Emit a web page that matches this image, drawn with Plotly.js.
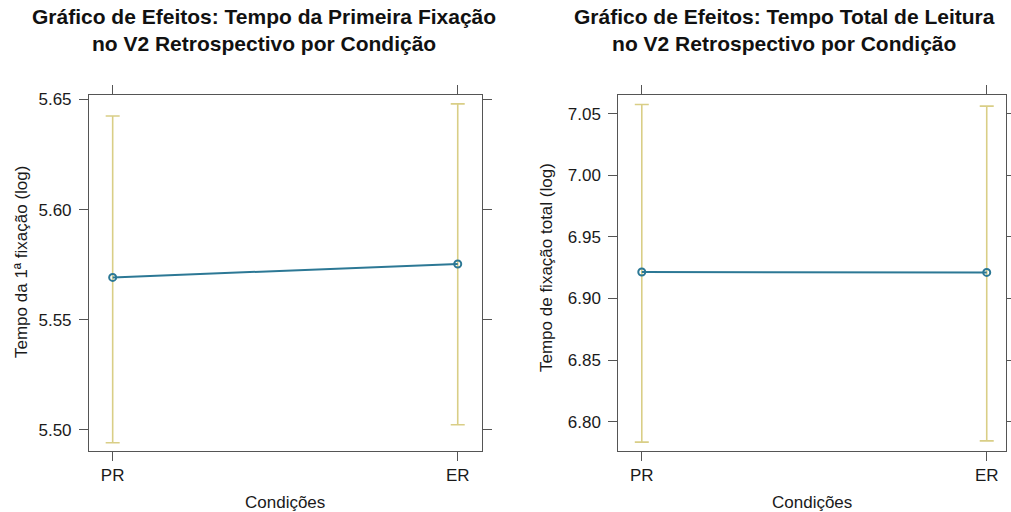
<!DOCTYPE html>
<html>
<head>
<meta charset="utf-8">
<script src="https://cdn.plot.ly/plotly-3.0.1.min.js"></script>
<style>html,body{margin:0;padding:0;background:#fff}#chart{width:1011px;height:512px}</style>
</head>
<body>
<div id="chart"></div>
<script>
// Data
const conditions = ["PR", "ER"];
// Left: Tempo da 1ª fixação (log)
const firstFixFit   = [5.5692, 5.5753];
const firstFixUpper = [5.6425, 5.6480];
const firstFixLower = [5.4941, 5.5023];
// Right: Tempo de fixação total (log)
const totalFixFit   = [6.9215, 6.9212];
const totalFixUpper = [7.0575, 7.0562];
const totalFixLower = [6.7834, 6.7844];

const lineColor = "#2c7895";
const barColor = "#d9ce86";
const axisColor = "#555555";
const font = "Liberation Sans, Arial, sans-serif";

function errTrace(fit, up, lo, xa, ya) {
  return {
    x: conditions, y: fit, xaxis: xa, yaxis: ya, type: "scatter", mode: "markers",
    marker: {size: 1, opacity: 0}, hoverinfo: "skip", showlegend: false,
    error_y: {type: "data", symmetric: false,
      array: up.map((u, i) => u - fit[i]),
      arrayminus: lo.map((l, i) => fit[i] - l),
      color: barColor, thickness: 1.6, width: 7}
  };
}
function fitTrace(fit, xa, ya) {
  return {
    x: conditions, y: fit, xaxis: xa, yaxis: ya, type: "scatter", mode: "lines+markers",
    line: {color: lineColor, width: 2},
    marker: {symbol: "circle-open", size: 7, color: lineColor, line: {width: 2, color: lineColor}},
    showlegend: false
  };
}

const data = [
  errTrace(firstFixFit, firstFixUpper, firstFixLower, "x", "y"),
  fitTrace(firstFixFit, "x", "y"),
  errTrace(totalFixFit, totalFixUpper, totalFixLower, "x2", "y2"),
  fitTrace(totalFixFit, "x2", "y2")
];

const axisCommon = {
  showline: true, mirror: "ticks", linecolor: axisColor, linewidth: 1,
  ticks: "outside", ticklen: 9, tickwidth: 1, tickcolor: axisColor,
  showgrid: false, zeroline: false,
  tickfont: {family: font, size: 17, color: "#1a1a1a"}
};

const yDomain = [0.1201, 0.8135];
const layout = {
  width: 1011, height: 512,
  margin: {l: 0, r: 0, t: 0, b: 0},
  paper_bgcolor: "#ffffff", plot_bgcolor: "#ffffff",
  showlegend: false,
  xaxis: Object.assign({}, axisCommon, {domain: [0.0880, 0.4765], type: "category",
    range: [-0.0687, 1.0696], anchor: "y", ticklabelstandoff: 0}),
  yaxis: Object.assign({}, axisCommon, {domain: yDomain, anchor: "x",
    range: [5.4906, 5.6518], dtick: 0.05, tick0: 5.5, tickformat: ".2f", ticklabelstandoff: 4}),
  xaxis2: Object.assign({}, axisCommon, {domain: [0.6116, 0.9951], type: "category",
    range: [-0.068, 1.056], anchor: "y2", ticklabelstandoff: 0}),
  yaxis2: Object.assign({}, axisCommon, {domain: yDomain, anchor: "x2",
    range: [6.7766, 7.0648], dtick: 0.05, tick0: 6.8, tickformat: ".2f", ticklabelstandoff: 4}),
  annotations: [
    {text: "<b>Gráfico de Efeitos: Tempo da Primeira Fixação<br>no V2 Retrospectivo por Condição</b>",
     xref: "paper", yref: "paper", x: 264/1011, y: 1 - 30/512, xanchor: "center", yanchor: "middle",
     showarrow: false, font: {family: font, size: 21, color: "#111"}},
    {text: "<b>Gráfico de Efeitos: Tempo Total de Leitura<br>no V2 Retrospectivo por Condição</b>",
     xref: "paper", yref: "paper", x: 784/1011, y: 1 - 30/512, xanchor: "center", yanchor: "middle",
     showarrow: false, font: {family: font, size: 21, color: "#111"}},
    {text: "Tempo da 1ª fixação (log)", textangle: -90,
     xref: "paper", yref: "paper", x: 21/1011, y: 1 - 262/512, xanchor: "center", yanchor: "middle",
     showarrow: false, font: {family: font, size: 17, color: "#1a1a1a"}},
    {text: "Tempo de fixação total (log)", textangle: -90,
     xref: "paper", yref: "paper", x: 546/1011, y: 1 - 268/512, xanchor: "center", yanchor: "middle",
     showarrow: false, font: {family: font, size: 17, color: "#1a1a1a"}},
    {text: "Condições",
     xref: "paper", yref: "paper", x: 285/1011, y: 1 - 502/512, xanchor: "center", yanchor: "middle",
     showarrow: false, font: {family: font, size: 17, color: "#1a1a1a"}},
    {text: "Condições",
     xref: "paper", yref: "paper", x: 812/1011, y: 1 - 502/512, xanchor: "center", yanchor: "middle",
     showarrow: false, font: {family: font, size: 17, color: "#1a1a1a"}}
  ]
};

Plotly.newPlot("chart", data, layout, {displayModeBar: false, staticPlot: true});
</script>
</body>
</html>
